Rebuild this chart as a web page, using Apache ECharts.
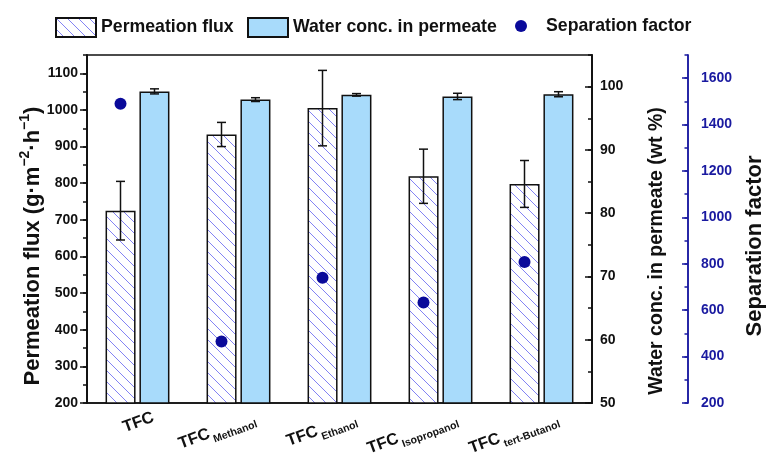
<!DOCTYPE html>
<html>
<head>
<meta charset="utf-8">
<script src="https://cdn.jsdelivr.net/npm/echarts@6/dist/echarts.min.js"></script>
<style>
  html, body { margin: 0; padding: 0; background: #fff; }
  #chart { width: 766px; height: 455px; }
</style>
</head>
<body>
<div id="chart"></div>
<script>
// data
const categories = ['TFC', 'TFC', 'TFC', 'TFC', 'TFC']
const subscripts = ['', 'Methanol', 'Ethanol', 'Isopropanol', 'tert-Butanol']
const flux = [725, 933, 1005, 819, 798]
const fluxErr = [80, 33, 103, 74, 64]
const water = [99.25, 97.95, 98.7, 98.45, 98.8]
const waterErr = [0.4, 0.3, 0.2, 0.5, 0.4]
const sepFactor = [1490, 465, 740, 633, 808]

const FONT = 'Liberation Sans, Arial, sans-serif'
const BLUE_AXIS = '#1a1aa0'
const DOT = '#0a0a9a'

// diagonal hatch for the flux bars
function hatch () {
  const s = 11
  const c = document.createElement('canvas')
  c.width = s
  c.height = s
  const ctx = c.getContext('2d')
  ctx.fillStyle = '#fff'
  ctx.fillRect(0, 0, s, s)
  ctx.strokeStyle = 'rgba(90,90,240,0.75)'
  ctx.lineWidth = 1
  ;[-s, 0, s].forEach(k => {
    ctx.beginPath()
    ctx.moveTo(k, 0)
    ctx.lineTo(k + s, s)
    ctx.stroke()
  })
  return { image: c, repeat: 'repeat' }
}

// error bars, shifted to the bar they belong to
function errorBar (offset) {
  return function (params, api) {
    const i = api.value(0)
    const lo = api.coord([i, api.value(1)])
    const hi = api.coord([i, api.value(2)])
    const x = lo[0] + offset
    const w = 4.5
    const st = { stroke: '#111', lineWidth: 1.5 }
    return {
      type: 'group',
      children: [
        { type: 'line', shape: { x1: x, y1: lo[1], x2: x, y2: hi[1] }, style: st },
        { type: 'line', shape: { x1: x - w, y1: hi[1], x2: x + w, y2: hi[1] }, style: st },
        { type: 'line', shape: { x1: x - w, y1: lo[1], x2: x + w, y2: lo[1] }, style: st }
      ]
    }
  }
}

const plain = v => String(v)

function yAxisBase (opt) {
  return Object.assign({
    type: 'value',
    nameMoveOverlap: false,
    splitLine: { show: false },
    axisLine: { show: true, lineStyle: { color: '#111', width: 1.5 } },
    axisTick: { show: true, length: 7, lineStyle: { color: '#111', width: 1.5 } },
    axisLabel: { fontFamily: FONT, fontSize: 14, fontWeight: 'bold', color: '#111', showMaxLabel: false, formatter: plain }
  }, opt)
}

const chart = echarts.init(document.getElementById('chart'))

const legendText = { fontFamily: FONT, fontSize: 17.7, fontWeight: 'bold', color: '#111' }

const option = {
  animation: false,
  grid: [
    { left: 87, right: 174, top: 55, bottom: 52, show: true, borderColor: '#111', borderWidth: 1.5, outerBoundsMode: 'none', containLabel: false },
    { left: 103, right: 158, top: 55, bottom: 52, show: false, outerBoundsMode: 'none', containLabel: false }
  ],
  legend: [
    { left: 55, top: 17, padding: 0, icon: 'rect', itemWidth: 40, itemHeight: 19, textStyle: legendText, data: ['Permeation flux'] },
    { left: 247, top: 17, padding: 0, icon: 'rect', itemWidth: 40, itemHeight: 19, textStyle: legendText, data: ['Water conc. in permeate'] },
    { left: 515, top: 17, padding: 0, icon: 'circle', itemWidth: 40, itemHeight: 12, textStyle: legendText, data: ['Separation factor'] }
  ],
  xAxis: [
    {
      type: 'category',
      gridIndex: 0,
      data: categories,
      axisLine: { show: true, lineStyle: { color: '#111', width: 1.5 } },
      axisTick: { show: false },
      axisLabel: { show: false }
    },
    {
      // label-only axis, sitting a little to the right like the original
      type: 'category',
      gridIndex: 1,
      data: categories.map((c, i) => c + '|' + subscripts[i]),
      axisLine: { show: false },
      axisTick: { show: false },
      axisLabel: {
        interval: 0,
        rotate: 20,
        margin: 14,
        formatter: v => {
          const [m, s] = v.split('|')
          return s ? '{m|' + m + '}{s|' + s + '}' : '{m|' + m + '}'
        },
        rich: {
          m: { fontFamily: FONT, fontSize: 16.5, fontWeight: 'bold', color: '#111' },
          s: { fontFamily: FONT, fontSize: 10.5, fontWeight: 'bold', color: '#111', verticalAlign: 'bottom', lineHeight: 26, padding: [0, 0, 0, 2] }
        }
      }
    }
  ],
  yAxis: [
    yAxisBase({
      position: 'left', min: 200, max: 1150, interval: 100,
      name: '{n|Permeation flux (g·m}{s|−2}{n|·h}{s|−1}{n|)}',
      nameLocation: 'middle', nameGap: 39,
      nameTextStyle: {
        padding: [0, 34, 0, 0],
        rich: {
          n: { fontFamily: FONT, fontSize: 22, fontWeight: 'bold', color: '#111' },
          s: { fontFamily: FONT, fontSize: 14, fontWeight: 'bold', color: '#111', verticalAlign: 'top', lineHeight: 30 }
        }
      },
      axisLabel: { fontFamily: FONT, fontSize: 14, fontWeight: 'bold', color: '#111', margin: 9, showMaxLabel: false, formatter: plain }
    }),
    yAxisBase({
      position: 'right', min: 50, max: 105, interval: 10,
      name: 'Water conc. in permeate (wt %)',
      nameLocation: 'middle', nameGap: 55,
      nameTextStyle: { fontFamily: FONT, fontSize: 19.5, fontWeight: 'bold', color: '#111', padding: [0, 44, 0, 0] },
      axisTick: { show: true, inside: true, length: 7, lineStyle: { color: '#111', width: 1.5 } },
      axisLabel: { fontFamily: FONT, fontSize: 14, fontWeight: 'bold', color: '#111', margin: 8, showMaxLabel: false, formatter: plain }
    }),
    yAxisBase({
      position: 'right', offset: 96, min: 200, max: 1700, interval: 200,
      name: 'Separation factor',
      nameLocation: 'middle', nameGap: 56,
      nameTextStyle: { fontFamily: FONT, fontSize: 22, fontWeight: 'bold', color: '#111', padding: [0, 34, 0, 0] },
      axisLine: { show: true, lineStyle: { color: BLUE_AXIS, width: 1.5 } },
      axisTick: { show: true, inside: true, length: 6, lineStyle: { color: BLUE_AXIS, width: 1.5 } },
      axisLabel: { fontFamily: FONT, fontSize: 14, fontWeight: 'bold', color: BLUE_AXIS, margin: 13, showMaxLabel: false, formatter: plain }
    }),
    // minor ticks
    yAxisBase({
      position: 'left', min: 200, max: 1150, interval: 50,
      axisTick: { show: true, length: 4, lineStyle: { color: '#111', width: 1.5 } },
      axisLabel: { show: false }
    }),
    yAxisBase({
      position: 'right', min: 50, max: 105, interval: 5,
      axisTick: { show: true, inside: true, length: 4, lineStyle: { color: '#111', width: 1.5 } },
      axisLabel: { show: false }
    }),
    yAxisBase({
      position: 'right', offset: 96, min: 200, max: 1700, interval: 100,
      axisLine: { show: true, lineStyle: { color: BLUE_AXIS, width: 1.5 } },
      axisTick: { show: true, inside: true, length: 3.5, lineStyle: { color: BLUE_AXIS, width: 1.5 } },
      axisLabel: { show: false }
    }),
    { type: 'value', gridIndex: 1, show: false }
  ],
  series: [
    {
      name: 'Permeation flux',
      type: 'bar',
      yAxisIndex: 0,
      barWidth: 30,
      barGap: '13%',
      data: flux,
      itemStyle: { color: hatch(), borderColor: '#111', borderWidth: 1.5 }
    },
    {
      name: 'Water conc. in permeate',
      type: 'bar',
      yAxisIndex: 1,
      barWidth: 30,
      barGap: '13%',
      data: water,
      itemStyle: { color: '#a8dbfb', borderColor: '#111', borderWidth: 1.5 }
    },
    {
      type: 'custom',
      yAxisIndex: 0,
      z: 5,
      renderItem: errorBar(-17),
      encode: { x: 0, y: [1, 2] },
      data: flux.map((v, i) => [i, v - fluxErr[i], v + fluxErr[i]])
    },
    {
      type: 'custom',
      yAxisIndex: 1,
      z: 5,
      renderItem: errorBar(17),
      encode: { x: 0, y: [1, 2] },
      data: water.map((v, i) => [i, v - waterErr[i], v + waterErr[i]])
    },
    {
      name: 'Separation factor',
      type: 'scatter',
      yAxisIndex: 2,
      z: 6,
      symbol: 'circle',
      symbolSize: 12,
      symbolOffset: [-17, 0],
      data: sepFactor,
      itemStyle: { color: DOT, opacity: 1 }
    }
  ]
}

chart.setOption(option)
</script>
</body>
</html>
